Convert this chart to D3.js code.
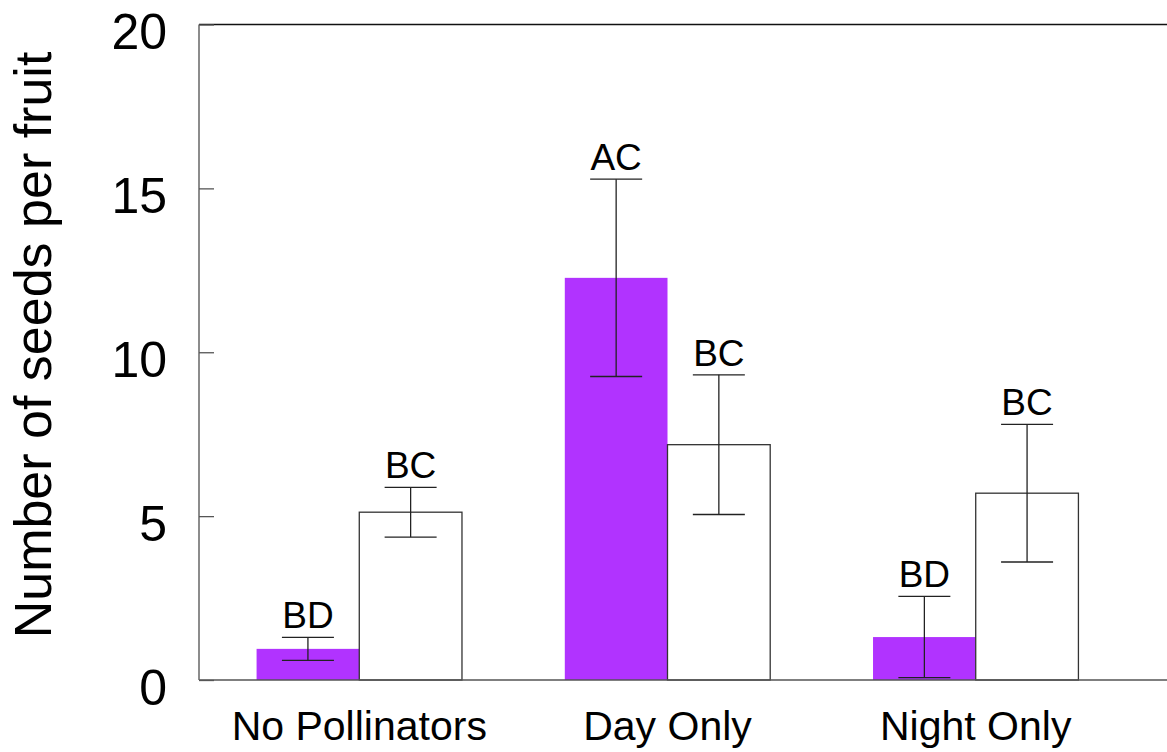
<!DOCTYPE html>
<html>
<head>
<meta charset="utf-8">
<script src="https://cdn.jsdelivr.net/npm/d3@7"></script>
<style>
  body { margin: 0; background: #fff; }
  svg text { font-family: Arial, "Liberation Sans", sans-serif; fill: #000; }
</style>
</head>
<body>
<svg id="chart" width="1167" height="752"></svg>
<script>
// data
var groups = ["No Pollinators", "Day Only", "Night Only"];
var series = ["filled", "open"];
var filledMeans = [0.95, 12.27, 1.31];
var filledErr   = [0.35, 3.01, 1.24];
var openMeans   = [5.12, 7.18, 5.70];
var openErr     = [0.76, 2.13, 2.10];
var filledLetters = ["BD", "AC", "BD"];
var openLetters   = ["BC", "BC", "BC"];
var yTicks = [0, 5, 10, 15, 20];

var W = 1167, H = 752;
var plotLeft = 199, plotTop = 24.5, plotBottom = 680;

var svg = d3.select("#chart");

var y = d3.scaleLinear().domain([0, 20]).range([plotBottom, plotTop]);
var x = d3.scalePoint().domain(groups).range([plotLeft, 1136]).padding(0.52);
var inner = d3.scaleBand().domain(series).range([-102.7, 102.7]).padding(0);

var rows = [];
groups.forEach(function(g, i) {
	rows.push({g: g, s: "filled", v: filledMeans[i], e: filledErr[i], t: filledLetters[i]});
	rows.push({g: g, s: "open", v: openMeans[i], e: openErr[i], t: openLetters[i]});
});

function cx(d) { return x(d.g) + inner(d.s) + inner.bandwidth() / 2; }

// bars
svg.selectAll("rect.bar").data(rows).enter().append("rect")
	.attr("class", "bar")
	.attr("x", function(d) { return x(d.g) + inner(d.s); })
	.attr("y", function(d) { return y(d.v); })
	.attr("width", inner.bandwidth())
	.attr("height", function(d) { return y(0) - y(d.v); })
	.attr("fill", function(d) { return d.s == "filled" ? "#b133ff" : "#fff"; })
	.attr("stroke", function(d) { return d.s == "filled" ? "none" : "#333"; })
	.attr("stroke-width", 1.3);

// error bars
var capHalf = 26;
var err = svg.selectAll("g.err").data(rows).enter().append("g").attr("class", "err")
	.attr("stroke", "#222").attr("stroke-width", 1.3);
err.append("line")
	.attr("x1", cx).attr("x2", cx)
	.attr("y1", function(d) { return y(d.v + d.e); })
	.attr("y2", function(d) { return y(Math.max(0, d.v - d.e)); });
err.append("line")
	.attr("x1", function(d) { return cx(d) - capHalf; })
	.attr("x2", function(d) { return cx(d) + capHalf; })
	.attr("y1", function(d) { return y(d.v + d.e); })
	.attr("y2", function(d) { return y(d.v + d.e); });
err.append("line")
	.attr("x1", function(d) { return cx(d) - capHalf; })
	.attr("x2", function(d) { return cx(d) + capHalf; })
	.attr("y1", function(d) { return y(Math.max(0, d.v - d.e)); })
	.attr("y2", function(d) { return y(Math.max(0, d.v - d.e)); });

// significance letters
svg.selectAll("text.letter").data(rows).enter().append("text")
	.attr("class", "letter")
	.attr("x", cx)
	.attr("y", function(d) { return y(d.v + d.e) - 9; })
	.attr("text-anchor", "middle")
	.style("font-size", "37px")
	.text(function(d) { return d.t; });

// frame
svg.append("line").attr("x1", plotLeft).attr("x2", W).attr("y1", plotTop).attr("y2", plotTop)
	.attr("stroke", "#111").attr("stroke-width", 1.5);
svg.append("line").attr("x1", plotLeft).attr("x2", W).attr("y1", plotBottom).attr("y2", plotBottom)
	.attr("stroke", "#555").attr("stroke-width", 1.5);
svg.append("line").attr("x1", plotLeft).attr("x2", plotLeft).attr("y1", plotTop).attr("y2", plotBottom)
	.attr("stroke", "#666").attr("stroke-width", 1.5);

// y axis (ticks point inward)
var yAxis = svg.append("g").attr("transform", "translate(" + plotLeft + ",0)")
	.call(d3.axisLeft(y).tickValues(yTicks).tickSize(-15).tickPadding(32));
yAxis.select(".domain").remove();
yAxis.selectAll(".tick line").attr("stroke", "#555").attr("stroke-width", 1.3);
yAxis.selectAll(".tick text")
	.attr("dy", "0.48em")
	.style("font-size", "50px")
	.style("font-family", "Arial, 'Liberation Sans', sans-serif")
	.attr("fill", "#000");

// x labels
svg.selectAll("text.cat").data(groups).enter().append("text")
	.attr("class", "cat")
	.attr("x", function(d) { return x(d); })
	.attr("y", 740)
	.attr("text-anchor", "middle")
	.style("font-size", "41px")
	.text(function(d) { return d; });

// y title
svg.append("text")
	.attr("transform", "translate(51,345) rotate(-90)")
	.attr("text-anchor", "middle")
	.style("font-size", "52px")
	.text("Number of seeds per fruit");
</script>
</body>
</html>
